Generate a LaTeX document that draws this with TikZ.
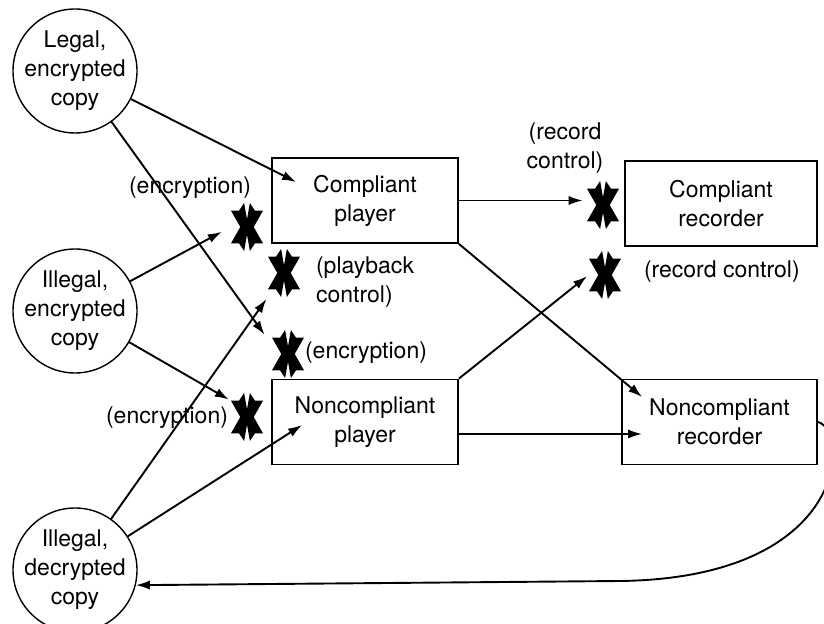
\documentclass[tikz,border=0pt]{standalone}
\usepackage{fontspec}
\setmainfont{TeX Gyre Heros}
\usetikzlibrary{arrows.meta}

\begin{document}
\begin{tikzpicture}[x=0.5pt, y=-0.5pt, >={Latex[length=7pt,width=4.6pt]},
    font=\fontsize{11.5}{14.5}\selectfont,
    copy/.style={draw, circle, line width=0.7pt, minimum size=62pt, inner sep=-2pt, align=center},
    device/.style={draw, line width=0.9pt, minimum width=93pt, minimum height=42.5pt, align=center},
    cross/.style={minimum width=16pt, minimum height=24pt, inner sep=0pt},
    flow/.style={->, line width=0.95pt},
    note/.style={align=center}]
  \useasboundingbox (0,0) rectangle (824,624);
  % ---- the three copies
  \node[copy] (legal) at (75,71) {Legal,\\encrypted\\copy};
  \node[copy] (ienc) at (75,311) {Illegal,\\encrypted\\copy};
  \node[copy] (idec) at (75,570) {Illegal,\\decrypted\\copy};
  % ---- players and recorders
  \node[device] (cplay) at (365,200.5) {Compliant\\player};
  \node[device, minimum width=96pt] (crec) at (721,203.5) {Compliant\\recorder};
  \node[device] (nplay) at (365,422) {Noncompliant\\player};
  \node[device, minimum width=97.5pt] (nrec) at (719.5,422) {Noncompliant\\recorder};
  % ---- blocked paths
  \foreach \n/\px/\py in {x1/247/227, x2/284/273, x3/288/354, x4/247/417, x5/603/205, x6/605/275} {
    \node[cross] (\n) at (\px,\py) {};
    \fill[shift={(\n)}, x=8pt, y=12pt] (-1,0.68) -- (-0.5,0.68) -- (-0.18,1) -- (0,0.32)
      -- (0.18,1) -- (0.5,0.68) -- (1,0.68) -- (0.42,0) -- (1,-0.68) -- (0.5,-0.68)
      -- (0.18,-1) -- (0,-0.32) -- (-0.18,-1) -- (-0.5,-0.68) -- (-1,-0.68) -- (-0.42,0) -- cycle;
  }
  \node[note] (encA) at (190,188) {(encryption)};
  \node[anchor=west, align=left] (playnote) at (309,282) {(playback\\control)};
  \node[anchor=west] (encB) at (298,353) {(encryption)};
  \node[note] (encC) at (167,418) {(encryption)};
  \node[note] (recA) at (565,148) {(record\\control)};
  \node[anchor=west] (recB) at (637,272) {(record control)};
  % ---- connectors
  \draw[flow] (legal) -- ([shift={(25,-18.5)}]cplay.west);
  \draw[flow, shorten >=6pt] (legal) -- (x3.150);
  \draw[flow, shorten >=5pt] (ienc) -- (x1.west);
  \draw[flow, shorten >=1pt] (ienc) -- (x4.135);
  \draw[flow, shorten >=1pt] (idec) -- (x2.south west);
  \draw[flow] (idec) -- ([shift={(31,3)}]nplay.west);
  \draw[flow, shorten >=2pt] (cplay.east) -- (cplay.east -| x5.west);
  \draw[flow] (cplay.south east) -- ([shift={(21,-25)}]nrec.west);
  \draw[flow, shorten >=1pt] (nplay.north east) -- (x6.west);
  \draw[flow] ([shift={(0,12)}]nplay.east) -- ([shift={(21,12)}]nrec.west);
  \draw[flow] (nrec.east) .. controls (850,430) and (850,578) .. (620,581) -- (idec.-14);
\end{tikzpicture}
\end{document}
